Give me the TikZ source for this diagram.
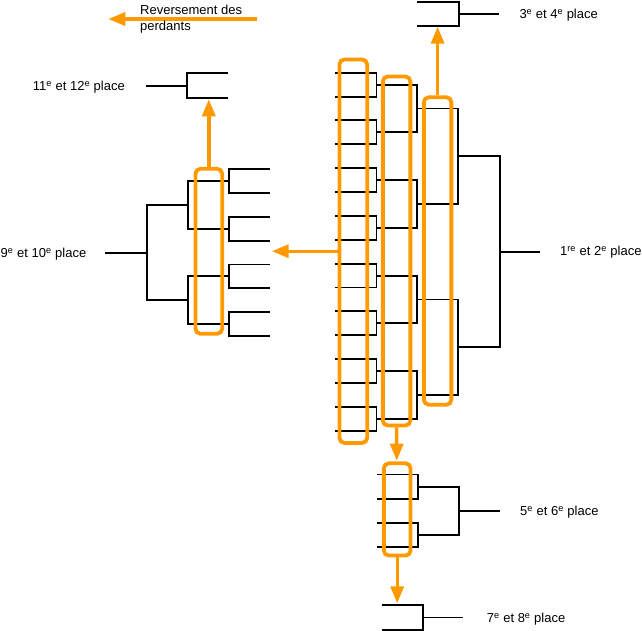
\documentclass[tikz,border=0pt]{standalone}
\usepackage{fontspec}
\setmainfont{Liberation Sans}
\usetikzlibrary{arrows.meta}
\definecolor{org}{RGB}{255,153,0}
\newcommand\bkt[4]{\draw[br] (#1,#3) -- (#2,#3) -- (#2,#4) -- (#1,#4);}
\begin{document}
\begin{tikzpicture}[x=1pt,y=-1pt,
  br/.style={line width=1.9pt, draw=black, line join=miter},
  obox/.style={draw=org, line width=3.8pt, rounded corners=5pt, inner sep=0pt},
  oarr/.style={draw=org, line width=3.4pt, -{Triangle[length=17pt,width=13pt]}},
  lab/.style={inner sep=0pt, font=\fontsize{13}{15.7}\selectfont}]
\useasboundingbox (0,0) rectangle (642,631);
% main bracket
\foreach \j in {0,...,7}{
  \pgfmathsetmacro\ya{72.7+47.74*\j}
  \pgfmathsetmacro\yb{\ya+23.87}
  \bkt{335}{376.5}{\ya}{\yb}
}
\foreach \i in {0,...,3}{
  \pgfmathsetmacro\ya{84.6+95.48*\i}
  \pgfmathsetmacro\yb{\ya+47.74}
  \bkt{376.5}{417}{\ya}{\yb}
}
\foreach \i in {0,1}{
  \pgfmathsetmacro\ya{108.5+190.96*\i}
  \pgfmathsetmacro\yb{\ya+95.48}
  \bkt{417}{458}{\ya}{\yb}
}
\bkt{458}{500}{156.2}{347.2}
\draw[br] (500,251.7) -- (540,251.7);
% losers bracket (9e/10e)
\foreach \j in {0,...,3}{
  \pgfmathsetmacro\ya{169.3+47.6*\j}
  \pgfmathsetmacro\yb{\ya+23.8}
  \bkt{270}{229.3}{\ya}{\yb}
}
\foreach \i in {0,1}{
  \pgfmathsetmacro\ya{181.2+95.2*\i}
  \pgfmathsetmacro\yb{\ya+47.6}
  \bkt{229.3}{188.3}{\ya}{\yb}
}
\bkt{188.3}{146.7}{205}{300.2}
\draw[br] (146.7,252.6) -- (105,252.6);
% 11e/12e
\bkt{228.3}{186.7}{73.3}{98.3}
\draw[br] (186.7,85.8) -- (146,85.8);
% 3e/4e
\bkt{416.7}{459}{1.7}{25.7}
\draw[br] (459,13.7) -- (499.3,13.7);
% 5e/6e
\bkt{376.7}{417.7}{474.5}{498.6}
\bkt{376.7}{417.7}{522.6}{546.7}
\bkt{417.7}{459}{486.6}{534.7}
\draw[br] (459,510.7) -- (500,510.7);
% 7e/8e
\bkt{381.7}{422.7}{605}{630}
\draw[br] (422.7,617.5) -- (463.3,617.5);
% orange boxes
\node[obox, minimum width=27.7pt, minimum height=383.5pt] (b1) at (353.3,251.2) {};
\node[obox, minimum width=27.5pt, minimum height=349pt] (b2) at (396.6,251) {};
\node[obox, minimum width=27.5pt, minimum height=307.5pt] (b3) at (437.6,251) {};
\node[obox, minimum width=26.7pt, minimum height=165pt] (bl) at (208.8,251.3) {};
\node[obox, minimum width=26.7pt, minimum height=92.2pt] (b56) at (397.2,509.4) {};
% arrow tips
\coordinate (t34) at (437.6,26.7);
\coordinate (t910) at (271.7,251.2);
\coordinate (t1112) at (208.8,99.3);
\coordinate (t56) at (396.8,460.7);
\coordinate (t78) at (397.2,603.3);
\coordinate (rs) at (256.7,19);
\coordinate (rt) at (108.3,19);
\draw[oarr] (b3.north) -- (t34);
\draw[oarr] (b1.west) -- (t910);
\draw[oarr] (bl.north) -- (t1112);
\draw[oarr] (b2.south) -- (t56);
\draw[oarr] (b56.south) -- (t78);
\draw[oarr] (rs) -- (rt);
% labels
\node[lab, anchor=west, align=left] (rev) at (140,19) {Reversement des\\perdants};
\node[lab, anchor=west] (l12) at (560,252.5) {1\textsuperscript{re} et 2\textsuperscript{e} place};
\node[lab, anchor=west] (l34) at (519.3,15) {3\textsuperscript{e} et 4\textsuperscript{e} place};
\node[lab, anchor=west] (l56) at (520,512) {5\textsuperscript{e} et 6\textsuperscript{e} place};
\node[lab, anchor=west] (l78) at (486.7,619) {7\textsuperscript{e} et 8\textsuperscript{e} place};
\node[lab, anchor=west] (l910) at (0.5,254) {9\textsuperscript{e} et 10\textsuperscript{e} place};
\node[lab, anchor=east] (l1112) at (125,87.5) {11\textsuperscript{e} et 12\textsuperscript{e} place};
\end{tikzpicture}
\end{document}
